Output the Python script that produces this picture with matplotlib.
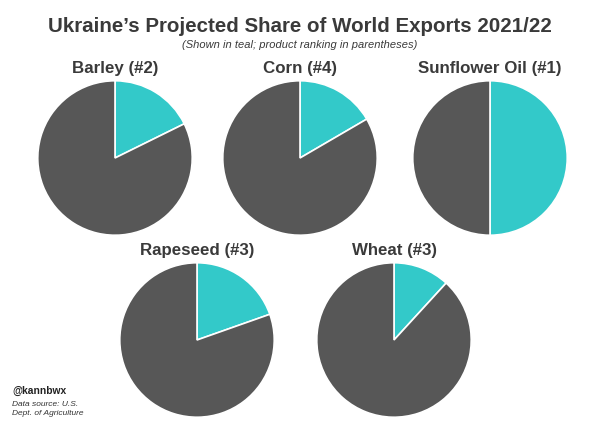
import numpy as np
import matplotlib.pyplot as plt

plt.rcParams['font.family'] = ['Liberation Sans', 'DejaVu Sans']

# Ukraine's share of world exports (%)
products = ['Barley (#2)', 'Corn (#4)', 'Sunflower Oil (#1)', 'Rapeseed (#3)', 'Wheat (#3)']
ukraine_share = [17.7, 16.6, 50.0, 19.6, 11.8]

teal = '#33c9c9'
grey = '#575757'
txt = '#3a3a3a'

W, H = 600, 431
fig = plt.figure(figsize=(W / 100, H / 100), dpi=100)
fig.patch.set_facecolor('white')

# pie centres in pixels (x, y from top), radius in pixels
centres = [(115, 159), (300, 159), (490, 159), (197, 341), (394, 341)]
R = 78

for name, share, (cx, cy) in zip(products, ukraine_share, centres):
	ax = fig.add_axes([(cx - R) / W, 1 - (cy + R) / H, 2 * R / W, 2 * R / H])
	ax.pie([share, 100 - share], colors=[teal, grey], startangle=90, counterclock=False,
		wedgeprops=dict(edgecolor='white', linewidth=1.2))
	ax.set_xlim(-1.01, 1.01)
	ax.set_ylim(-1.01, 1.01)
	ax.set_aspect('equal')
	ax.axis('off')
	fig.text(cx / W, 1 - (cy - R - 13) / H, name, ha='center', va='center',
		fontsize=12.2, fontweight='bold', color=txt)

fig.text(0.5, 1 - 26 / H, 'Ukraine\u2019s Projected Share of World Exports 2021/22',
	ha='center', va='center', fontsize=14.8, fontweight='bold', color=txt)
fig.text(0.5, 1 - 45 / H, '(Shown in teal; product ranking in parentheses)',
	ha='center', va='center', fontsize=8, fontstyle='italic', color=txt)

fig.text(12 / W, 1 - 391 / H, '@kannbwx', ha='left', va='center',
	fontsize=7.4, fontweight='bold', color='#222222')
fig.text(12 / W, 1 - 409 / H, 'Data source: U.S.\nDept. of Agriculture', ha='left', va='center',
	fontsize=6.0, fontstyle='italic', color='#333333', linespacing=1.55)

fig.savefig('out.png', dpi=100, facecolor='white')
